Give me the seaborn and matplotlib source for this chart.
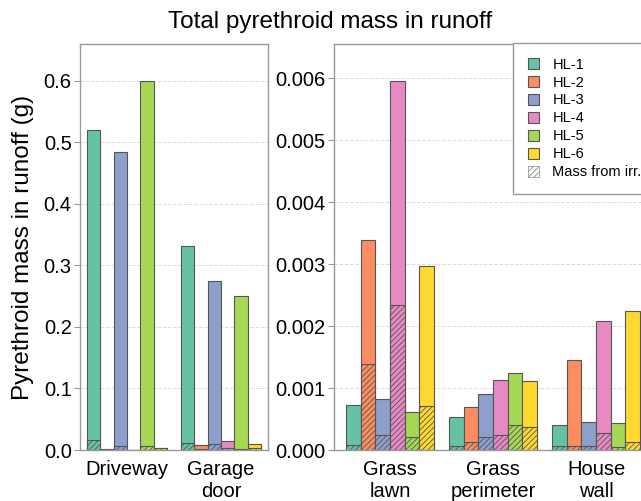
import matplotlib
matplotlib.use('Agg')
import matplotlib.pyplot as plt
import seaborn as sns
import pandas as pd
from matplotlib.patches import Patch

# Data
series = ['HL-1', 'HL-2', 'HL-3', 'HL-4', 'HL-5', 'HL-6']
colors = ['#66c2a5', '#fc8d62', '#8da0cb', '#e78ac3', '#a6d854', '#ffd92f']

hard_surfaces = ['Driveway', 'Garage\ndoor']
hard_total = [
    [0.520, 0.0012, 0.485, 0.0008, 0.600, 0.0030],   # Driveway
    [0.332, 0.0085, 0.275, 0.0140, 0.251, 0.0095],   # Garage door
]
hard_irr = [
    [0.0170, 0.0006, 0.0060, 0.0004, 0.0070, 0.0025],
    [0.0110, 0.0020, 0.0090, 0.0030, 0.0020, 0.0030],
]

soft_surfaces = ['Grass\nlawn', 'Grass\nperimeter', 'House\nwall']
soft_total = [
    [0.00072, 0.00338, 0.00083, 0.00596, 0.00061, 0.00297],   # Grass lawn
    [0.00053, 0.00070, 0.00091, 0.00113, 0.00125, 0.00111],   # Grass perimeter
    [0.00041, 0.00146, 0.00045, 0.00208, 0.00043, 0.00225],   # House wall
]
soft_irr = [
    [0.000075, 0.00139, 0.00025, 0.00234, 0.00021, 0.00071],
    [0.000070, 0.000125, 0.00021, 0.00024, 0.00040, 0.00037],
    [0.000065, 0.000070, 0.000060, 0.00027, 0.000050, 0.00013],
]


def to_frame(surfaces, total, irr):
    rows = []
    for s, tot_row, irr_row in zip(surfaces, total, irr):
        for hl, t, i in zip(series, tot_row, irr_row):
            rows.append({'surface': s, 'HL': hl, 'total': t, 'irr': i})
    return pd.DataFrame(rows)


hard_df = to_frame(hard_surfaces, hard_total, hard_irr)
soft_df = to_frame(soft_surfaces, soft_total, soft_irr)

sns.set_style('white')
plt.rcParams['font.family'] = ['Liberation Sans', 'DejaVu Sans']
plt.rcParams['hatch.linewidth'] = 0.6
plt.rcParams['text.color'] = 'black'
plt.rcParams['xtick.color'] = 'black'
plt.rcParams['ytick.color'] = 'black'

fig = plt.figure(figsize=(6.41, 5.01), dpi=100)
W, H = 641, 501
ax1 = fig.add_axes([80 / W, 1 - 450 / H, 188 / W, 406 / H])
ax2 = fig.add_axes([334 / W, 1 - 450 / H, 318 / W, 406 / H])

edge = '#555555'


def draw(ax, df, order):
    sns.barplot(data=df, x='surface', y='total', hue='HL', order=order,
                hue_order=series, palette=colors, saturation=1, width=0.85,
                errorbar=None, edgecolor=edge, linewidth=0.8, legend=False, ax=ax)
    sns.barplot(data=df, x='surface', y='irr', hue='HL', order=order,
                hue_order=series, palette=colors, saturation=1, width=0.85,
                errorbar=None, edgecolor=edge, linewidth=0.8, hatch='//////',
                legend=False, ax=ax)
    ax.set_xlabel('')
    ax.set_ylabel('')
    ax.set_axisbelow(True)
    ax.yaxis.grid(True, linestyle='--', color='#dcdcdc', linewidth=0.7)
    for sp in ax.spines.values():
        sp.set_color('#9a9a9a')
        sp.set_linewidth(1.0)
    ax.tick_params(axis='y', left=True, length=4, width=0.8, color='#9a9a9a',
                   labelcolor='black', labelsize=14.5, pad=2)
    ax.tick_params(axis='x', bottom=False, labelcolor='black', labelsize=14.5, pad=4)


draw(ax1, hard_df, hard_surfaces)
ax1.set_xlim(-0.5, 1.5)
ax1.set_ylim(0, 0.66)
ax1.set_yticks([0.0, 0.1, 0.2, 0.3, 0.4, 0.5, 0.6])
ax1.set_yticklabels(['0.0', '0.1', '0.2', '0.3', '0.4', '0.5', '0.6'])

draw(ax2, soft_df, soft_surfaces)
ax2.set_xlim(-0.544, 2.543)
ax2.set_ylim(0, 0.00655)
ticks2 = [0.0, 0.001, 0.002, 0.003, 0.004, 0.005, 0.006]
ax2.set_yticks(ticks2)
ax2.set_yticklabels([f'{t:.3f}' for t in ticks2])

fig.text(330 / W, 1 - 22 / H, 'Total pyrethroid mass in runoff', ha='center',
         va='center', fontsize=17.5, color='black')
fig.text(23 / W, 1 - 247 / H, 'Pyrethroid mass in runoff (g)', rotation=90,
         ha='center', va='center', fontsize=17.5, color='black')

handles = [Patch(facecolor=c, edgecolor=edge, linewidth=0.8, label=s)
           for c, s in zip(colors, series)]
handles.append(Patch(facecolor='white', edgecolor='#888888', linewidth=0.5,
                     hatch='//////', label='Mass from irr.'))
leg = ax2.legend(handles=handles, loc='upper left',
                 bbox_to_anchor=(513 / W, 1 - 43 / H),
                 bbox_transform=fig.transFigure, borderaxespad=0,
                 fontsize=10.5, frameon=True, fancybox=False, framealpha=1,
                 edgecolor='#9a9a9a', handlelength=0.8, handleheight=0.8,
                 handletextpad=0.9, labelspacing=0.27, borderpad=1.0)
leg.get_frame().set_linewidth(1.0)

plt.savefig('out.png', dpi=100)
